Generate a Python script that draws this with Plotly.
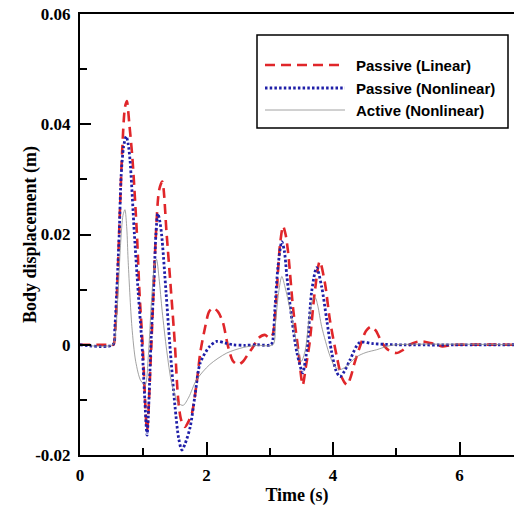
import plotly.graph_objects as go

# ---------------- data ----------------
t_linear = [0, 0.5, 0.53, 0.56, 0.59, 0.63, 0.67, 0.71, 0.74, 0.78, 0.83, 0.9, 0.94, 0.99,
            1.06, 1.12, 1.16, 1.2, 1.25, 1.3, 1.37, 1.44, 1.5, 1.55, 1.6, 1.66, 1.72, 1.77,
            1.85, 1.9, 1.98, 2.04, 2.1, 2.18, 2.26, 2.34, 2.42, 2.5, 2.58, 2.65, 2.73, 2.82,
            2.92, 3.0, 3.05, 3.1, 3.16, 3.21, 3.25, 3.29, 3.37, 3.45, 3.52, 3.57, 3.63, 3.71,
            3.79, 3.87, 3.95, 4.06, 4.14, 4.22, 4.28, 4.34, 4.45, 4.52, 4.6, 4.68, 4.77, 4.88,
            5.0, 5.1, 5.21, 5.32, 5.42, 5.54, 5.64, 5.73, 5.85, 5.95, 6.9]
disp_linear = [0, 0, 0, 0.003, 0.011, 0.024, 0.036, 0.043, 0.0442, 0.040, 0.0336, 0.020, 0.0095, 0.0,
               -0.0155, -0.002, 0.009, 0.020, 0.028, 0.0296, 0.020, 0.0095, 0.0, -0.0096, -0.0137, -0.0149, -0.0138, -0.0124,
               -0.0064, -0.0015, 0.0033, 0.006, 0.0067, 0.006, 0.004, -0.0003, -0.003, -0.0036, -0.003, -0.0018, -0.0005, 0.0012,
               0.0018, 0.0012, 0.002, 0.008, 0.018, 0.0215, 0.020, 0.0167, 0.0064, -0.0009, -0.0073, -0.004, 0.0004, 0.0095,
               0.0151, 0.0113, 0.0045, -0.0022, -0.006, -0.0073, -0.0058, -0.0033, 0.0005, 0.0025, 0.0033, 0.0025, 0.0004, -0.0010,
               -0.0015, -0.001, 0.0, 0.0005, 0.0006, 0.0003, 0.0, -0.0003, -0.0001, 0.0, 0.0]

t_nonlinear = [0, 0.52, 0.55, 0.58, 0.62, 0.65, 0.69, 0.73, 0.76, 0.79, 0.86, 0.92, 0.98, 1.02,
               1.06, 1.09, 1.12, 1.17, 1.2, 1.23, 1.26, 1.29, 1.36, 1.42, 1.5, 1.56, 1.61, 1.66,
               1.74, 1.82, 1.9, 2.05, 2.16, 2.3, 2.42, 2.6, 2.8, 3.02, 3.05, 3.08, 3.13, 3.19,
               3.23, 3.27, 3.35, 3.43, 3.52, 3.56, 3.6, 3.66, 3.74, 3.82, 3.9, 3.98, 4.05, 4.11,
               4.18, 4.27, 4.42, 4.63, 5.0, 6.9]
disp_nonlinear = [0, 0, 0.003, 0.0095, 0.020, 0.0306, 0.036, 0.0378, 0.0365, 0.0336, 0.020, 0.0095, 0.0, -0.009,
                  -0.0164, -0.010, 0.0, 0.0118, 0.020, 0.0238, 0.0225, 0.020, 0.0095, 0.0, -0.011, -0.017, -0.0191, -0.018,
                  -0.015, -0.009, -0.0033, -0.0003, 0.0006, 0.0003, 0.0, -0.0001, 0.0, 0.0, 0.001, 0.0064, 0.0142, 0.0187,
                  0.017, 0.0124, 0.0045, -0.0015, -0.0051, -0.003, 0.0004, 0.0095, 0.014, 0.0105, 0.0045, -0.0015, -0.0048, -0.0058,
                  -0.0048, -0.0027, 0.0004, 0.0002, 0.0, 0.0]

t_active = [0, 0.52, 0.56, 0.6, 0.64, 0.68, 0.71, 0.74, 0.76, 0.82, 0.88, 0.96, 1.03, 1.08,
            1.13, 1.18, 1.21, 1.25, 1.3, 1.37, 1.45, 1.55, 1.63, 1.72, 1.84, 2.05, 2.32, 2.58,
            2.8, 3.05, 3.09, 3.14, 3.19, 3.24, 3.32, 3.43, 3.5, 3.56, 3.62, 3.68, 3.72, 3.76,
            3.82, 3.95, 4.03, 4.11, 4.2, 4.37, 4.52, 4.69, 4.85, 5.0, 6.9]
disp_active = [0, 0, 0.002, 0.009, 0.018, 0.0235, 0.0245, 0.021, 0.0155, 0.0033, -0.003, -0.0065, -0.0072, -0.002,
               0.008, 0.0145, 0.0155, 0.012, 0.006, -0.001, -0.007, -0.0105, -0.011, -0.0095, -0.0064, -0.0036, -0.0015, -0.0005,
               -0.0001, 0.0, 0.004, 0.0095, 0.0124, 0.0105, 0.0064, 0.0, -0.003, -0.001, 0.0045, 0.0082, 0.0085, 0.007,
               0.0033, -0.002, -0.004, -0.0045, -0.004, -0.0022, -0.0014, -0.0009, -0.0003, 0.0, 0.0]

series_names = ["Passive (Linear)", "Passive (Nonlinear)", "Active (Nonlinear)"]
x_tick_vals = [0, 2, 4, 6]
x_tick_text = ["0", "2", "4", "6"]
y_tick_vals = [-0.02, 0, 0.02, 0.04, 0.06]
y_tick_text = ["-0.02", "0", "0.02", "0.04", "0.06"]
x_title = "Time (s)"
y_title = "Body displacement (m)"

# ---------------- styles ----------------
RED = "#e0262a"
BLUE = "#1f1fa8"
GRAY = "#8a8a8a"
red_line = dict(color=RED, width=2.6, dash="10px,6px")
blue_line = dict(color=BLUE, width=2.8, dash="2.5px,2.2px")
gray_line = dict(color=GRAY, width=0.8)

fig = go.Figure()
fig.add_trace(go.Scatter(x=t_linear, y=disp_linear, mode="lines", name=series_names[0],
                         line=dict(shape="spline", smoothing=0.8, **red_line), showlegend=False))
fig.add_trace(go.Scatter(x=t_nonlinear, y=disp_nonlinear, mode="lines", name=series_names[1],
                         line=dict(shape="spline", smoothing=0.8, **blue_line), showlegend=False))
fig.add_trace(go.Scatter(x=t_active, y=disp_active, mode="lines", name=series_names[2],
                         line=dict(shape="spline", smoothing=0.8, **gray_line), showlegend=False))

tick_font = dict(family="Liberation Serif", size=17, color="black")
title_font = dict(family="Liberation Serif", size=18, color="black")

fig.update_xaxes(range=[0, 6.86], tickvals=x_tick_vals,
                 ticktext=["<b>%s</b>" % s for s in x_tick_text],
                 ticks="inside", ticklen=13, tickwidth=1.8, tickcolor="black",
                 minor=dict(tickvals=[1, 3, 5], ticks="inside", ticklen=7, tickwidth=1.8, tickcolor="black"),
                 showline=True, linewidth=2, linecolor="black", mirror=True,
                 showgrid=False, zeroline=False,
                 tickfont=tick_font, ticklabelstandoff=4, automargin=False,
                 title=dict(text="<b>%s</b>" % x_title, font=title_font, standoff=4))
fig.update_yaxes(range=[-0.02, 0.06], tickvals=y_tick_vals,
                 ticktext=["<b>%s</b>" % s for s in y_tick_text],
                 ticks="inside", ticklen=11, tickwidth=1.8, tickcolor="black",
                 minor=dict(tickvals=[-0.01, 0.01, 0.03, 0.05], ticks="inside", ticklen=7, tickwidth=1.8, tickcolor="black"),
                 showline=True, linewidth=2, linecolor="black", mirror=False,
                 showgrid=False, zeroline=False,
                 tickfont=tick_font, ticklabelstandoff=4, automargin=False)

# ---------------- manual legend and y title (paper coordinates) ----------------
L, R, T, B = 80, 514, 14, 455
def px(xp):
    return (xp - L) / (R - L)
def py(yp):
    return (B - yp) / (B - T)

fig.add_annotation(xref="paper", yref="paper", x=px(31), y=py(235), textangle=-90,
                   text="<b>%s</b>" % y_title, showarrow=False, xanchor="center", yanchor="middle",
                   font=title_font)

fig.add_shape(type="rect", xref="paper", yref="paper",
              x0=px(257), x1=px(508), y0=py(128), y1=py(35),
              line=dict(color="black", width=1.5), fillcolor="white", layer="above")
legend_rows = [65, 88, 110]
legend_styles = [red_line, blue_line, gray_line]
for name, row, st in zip(series_names, legend_rows, legend_styles):
    fig.add_shape(type="line", xref="paper", yref="paper",
                  x0=px(265), x1=px(345), y0=py(row), y1=py(row),
                  line=st, layer="above")
    fig.add_annotation(xref="paper", yref="paper", x=px(354), y=py(row),
                       text="<b>%s</b>" % name, showarrow=False, xanchor="left", yanchor="middle",
                       font=dict(family="Liberation Sans", size=15, color="black"))

fig.update_layout(width=514, height=511, margin=dict(l=80, r=0, t=14, b=56),
                  paper_bgcolor="white", plot_bgcolor="white", showlegend=False)

fig.write_html("out.html", config={"displayModeBar": False},
               post_script="document.body.style.margin='0';document.body.style.overflow='hidden';")
